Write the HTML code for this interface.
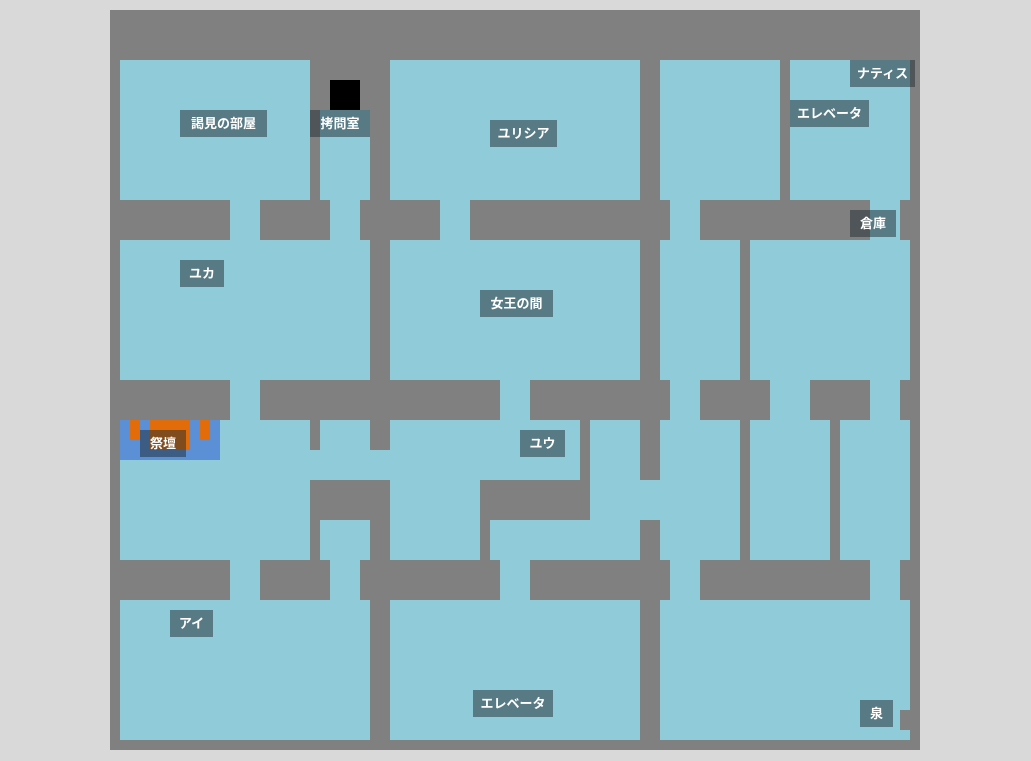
<!DOCTYPE html>
<html><head><meta charset="utf-8"><style>
body{margin:0;width:1031px;height:761px;background:#d9d9d9;position:relative;overflow:hidden}
div{position:absolute}
.g{background:#808080}.b{background:#90cbd9}.o{background:#e36c0a}
.l{background:rgba(29,41,47,0.5);color:#fff;font:bold 13px "Liberation Sans","Noto Sans CJK JP",sans-serif;height:27px;line-height:27px;text-align:center}
</style></head><body>
<div class="g" style="left:110px;top:10px;width:810px;height:740px"></div>
<!-- row1 -->
<div class="b" style="left:120px;top:60px;width:190px;height:140px"></div>
<div class="b" style="left:320px;top:110px;width:50px;height:90px"></div>
<div style="left:330px;top:80px;width:30px;height:30px;background:#000"></div>
<div class="b" style="left:390px;top:60px;width:250px;height:140px"></div>
<div class="b" style="left:660px;top:60px;width:120px;height:140px"></div>
<div class="b" style="left:790px;top:60px;width:120px;height:140px"></div>
<!-- wall1 gaps -->
<div class="b" style="left:230px;top:200px;width:30px;height:40px"></div>
<div class="b" style="left:330px;top:200px;width:30px;height:40px"></div>
<div class="b" style="left:440px;top:200px;width:30px;height:40px"></div>
<div class="b" style="left:670px;top:200px;width:30px;height:40px"></div>
<div class="b" style="left:870px;top:200px;width:30px;height:40px"></div>
<!-- row2 -->
<div class="b" style="left:120px;top:240px;width:250px;height:140px"></div>
<div class="b" style="left:390px;top:240px;width:250px;height:140px"></div>
<div class="b" style="left:660px;top:240px;width:80px;height:140px"></div>
<div class="b" style="left:750px;top:240px;width:160px;height:140px"></div>
<!-- wall2 gaps -->
<div class="b" style="left:230px;top:380px;width:30px;height:40px"></div>
<div class="b" style="left:500px;top:380px;width:30px;height:40px"></div>
<div class="b" style="left:670px;top:380px;width:30px;height:40px"></div>
<div class="b" style="left:770px;top:380px;width:40px;height:40px"></div>
<div class="b" style="left:870px;top:380px;width:30px;height:40px"></div>
<!-- row3 -->
<div class="b" style="left:120px;top:420px;width:790px;height:140px"></div>
<div class="g" style="left:310px;top:420px;width:10px;height:30px"></div>
<div class="g" style="left:370px;top:420px;width:20px;height:30px"></div>
<div class="g" style="left:310px;top:480px;width:80px;height:40px"></div>
<div class="g" style="left:310px;top:520px;width:10px;height:40px"></div>
<div class="g" style="left:370px;top:520px;width:20px;height:40px"></div>
<div class="g" style="left:480px;top:480px;width:110px;height:40px"></div>
<div class="g" style="left:480px;top:520px;width:10px;height:40px"></div>
<div class="g" style="left:580px;top:420px;width:10px;height:60px"></div>
<div class="g" style="left:640px;top:420px;width:20px;height:60px"></div>
<div class="g" style="left:640px;top:520px;width:20px;height:40px"></div>
<div class="g" style="left:740px;top:420px;width:10px;height:140px"></div>
<div class="g" style="left:830px;top:420px;width:10px;height:140px"></div>
<div style="left:120px;top:420px;width:100px;height:40px;background:#5b8fd6"></div>
<div class="o" style="left:130px;top:420px;width:10px;height:20px"></div>
<div class="o" style="left:150px;top:420px;width:40px;height:30px"></div>
<div class="o" style="left:200px;top:420px;width:10px;height:20px"></div>
<!-- wall3 gaps -->
<div class="b" style="left:230px;top:560px;width:30px;height:40px"></div>
<div class="b" style="left:330px;top:560px;width:30px;height:40px"></div>
<div class="b" style="left:500px;top:560px;width:30px;height:40px"></div>
<div class="b" style="left:670px;top:560px;width:30px;height:40px"></div>
<div class="b" style="left:870px;top:560px;width:30px;height:40px"></div>
<!-- row4 -->
<div class="b" style="left:120px;top:600px;width:250px;height:140px"></div>
<div class="b" style="left:390px;top:600px;width:250px;height:140px"></div>
<div class="b" style="left:660px;top:600px;width:250px;height:140px"></div>
<div class="g" style="left:900px;top:710px;width:10px;height:20px"></div>
<!-- labels -->
<div class="l" style="left:180px;top:110px;width:87px">謁見の部屋</div>
<div class="l" style="left:310px;top:110px;width:60px">拷問室</div>
<div class="l" style="left:490px;top:120px;width:67px">ユリシア</div>
<div class="l" style="left:850px;top:60px;width:65px">ナティス</div>
<div class="l" style="left:790px;top:100px;width:79px">エレベータ</div>
<div class="l" style="left:850px;top:210px;width:46px">倉庫</div>
<div class="l" style="left:180px;top:260px;width:44px">ユカ</div>
<div class="l" style="left:480px;top:290px;width:73px">女王の間</div>
<div class="l" style="left:140px;top:430px;width:46px">祭壇</div>
<div class="l" style="left:520px;top:430px;width:45px">ユウ</div>
<div class="l" style="left:170px;top:610px;width:43px">アイ</div>
<div class="l" style="left:473px;top:690px;width:80px">エレベータ</div>
<div class="l" style="left:860px;top:700px;width:33px">泉</div>
</body></html>
